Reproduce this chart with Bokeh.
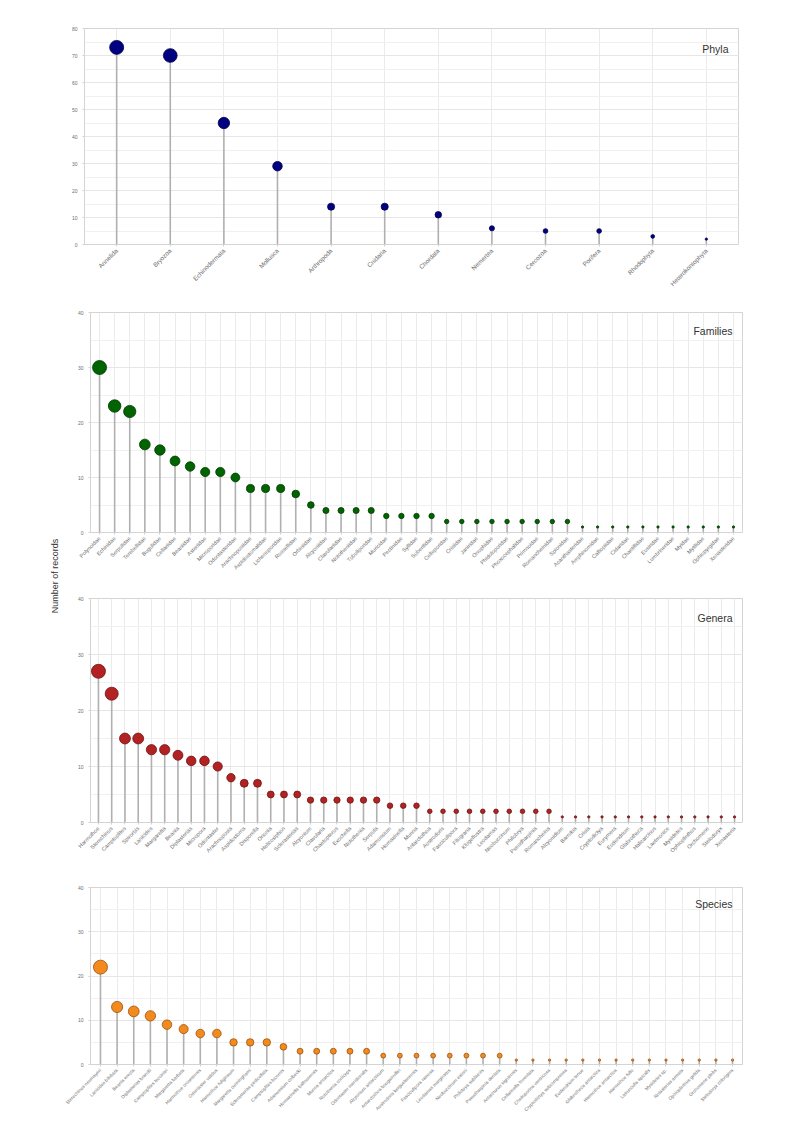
import math
from bokeh.plotting import figure
from bokeh.models import Range1d, Label, SingleIntervalTicker, Div, ColumnDataSource
from bokeh.layouts import column, row
from bokeh.embed import file_html
from bokeh.resources import INLINE

# ---------------- data ----------------
phyla = ["Annelida", "Bryozoa", "Echinodermata", "Mollusca", "Arthropoda", "Cnidaria",
         "Chordata", "Nemertea", "Cercozoa", "Porifera", "Rhodophyta", "Heterokontophyta"]
phyla_n = [73, 70, 45, 29, 14, 14, 11, 6, 5, 5, 3, 2]

families = ["Polynoidae", "Echinidae", "Serpulidae", "Terebellidae", "Bugulidae",
            "Cellariidae", "Beaniidae", "Asteriidae", "Microporidae", "Odontasteridae",
            "Arachnopusiidae", "Aspidostomatidae", "Lichenoporidae", "Rossellidae", "Orbiniidae",
            "Alcyoniidae", "Clavulariidae", "Nototheniidae", "Tubuliporidae", "Muricidae",
            "Pectinidae", "Syllidae", "Suberitidae", "Celleporidae", "Crisiidae",
            "Janiridae", "Onuphidae", "Phidoloporidae", "Phoxocephalidae", "Primnoidae",
            "Romancheinidae", "Spionidae", "Acanthasteridae", "Amphinomidae", "Calliopiidae",
            "Cidaridae", "Chaetillidae", "Eusiridae", "Lumbrineridae", "Myidae",
            "Mytilidae", "Ophiopyrgidae", "Xenasteridae"]
families_n = [30, 23, 22, 16, 15, 13, 12, 11, 11, 10, 8, 8, 8, 7, 5, 4, 4, 4, 4, 3, 3, 3, 3,
              2, 2, 2, 2, 2, 2, 2, 2, 2, 1, 1, 1, 1, 1, 1, 1, 1, 1, 1, 1]

genera = ["Harmothoe", "Sterechinus", "Camptoplites", "Spirorbis", "Lanicides", "Margaretta",
          "Beania", "Diplasterias", "Micropora", "Odontaster", "Arachnopusia", "Aspidostoma",
          "Disporella", "Orionia", "Helicosiphon", "Sclerasterias", "Alcyonium", "Clavularia",
          "Chaetopterus", "Exochella", "Notothenia", "Serpula", "Adamussium", "Homaxinella",
          "Munna", "Antarctothoa", "Austrodoris", "Fasciculipora", "Filograna", "Klugeflustra",
          "Leodamas", "Neobuccinum", "Philobrya", "Pseudharpinia", "Romancheina", "Alcyonidium",
          "Barrukia", "Crisia", "Cryptodictya", "Eurymera", "Eudendrium", "Glabrotheca",
          "Halicarcinus", "Laetmonice", "Mysidetes", "Ophioplinthus", "Orchomene", "Stelodoryx",
          "Xenasteria"]
genera_n = [27, 23, 15, 15, 13, 13, 12, 11, 11, 10, 8, 7, 7, 5, 5, 5, 4, 4, 4, 4, 4, 4, 3, 3, 3,
            2, 2, 2, 2, 2, 2, 2, 2, 2, 2, 1, 1, 1, 1, 1, 1, 1, 1, 1, 1, 1, 1, 1, 1]

species = ["Sterechinus neumayeri", "Lanicides bilobata", "Beania erecta", "Diplasterias brandti",
           "Camptoplites lecointei", "Margaretta barbata", "Harmothoe crosetensis",
           "Odontaster validus", "Harmothoe fuligineum", "Margaretta cunninghami",
           "Sclerasterias pedicellata", "Camptoplites bicornis", "Adamussium colbecki",
           "Homaxinella balfourensis", "Munna antarctica", "Notothenia coriiceps",
           "Odontaster meridionalis", "Alcyonium antarcticum", "Antarctothoa bougainvillei",
           "Austrodoris kerguelenensis", "Fasciculipora ramosa", "Leodamas marginatus",
           "Neobuccinum eatoni", "Philobrya sublaevis", "Pseudharpinia dentata",
           "Antarcturus signiensis", "Cellarinella foveolata", "Cheiloporina ventricosa",
           "Cryptodictya subcompressa", "Eudendrium tenue", "Glabrotheca antarctica",
           "Harmothoe antarctica", "Harmothoe fullo", "Latrunculia apicalis", "Mysidetes sp.",
           "Notasterias armata", "Ophioplinthus gelida", "Orchomene plebs",
           "Stelodoryx chlorigera"]
species_n = [22, 13, 12, 11, 9, 8, 7, 7, 5, 5, 5, 4, 3, 3, 3, 3, 3,
             2, 2, 2, 2, 2, 2, 2, 2, 1, 1, 1, 1, 1, 1, 1, 1, 1, 1, 1, 1, 1, 1]

FONT = "Liberation Sans"
DIV_W = 46
FIG_W = 724


def marker_sizes(vals, dmax=14.0):
    lo, hi = min(vals), max(vals)
    out = []
    for v in vals:
        r = 0.0 if hi == lo else (v - lo) / (hi - lo)
        out.append(dmax * (1 + 5 * math.sqrt(r)) / 6.0)
    return out


def panel(cats, vals, fill, line, title, ymax, left, frame_w, frame_h, top, bottom,
          xfont, title_dy):
    right = FIG_W - left - frame_w
    p = figure(x_range=cats, y_range=Range1d(0, ymax),
               width=FIG_W, height=top + frame_h + bottom,
               min_border_left=left, min_border_right=right,
               min_border_top=top, min_border_bottom=bottom,
               output_backend="svg", toolbar_location=None,
               background_fill_color="white", border_fill_color=None)
    p.x_range.range_padding = 0.1
    p.x_range.range_padding_units = "absolute"
    src = ColumnDataSource(dict(cat=cats, val=vals, zero=[0] * len(vals),
                                size=marker_sizes(vals)))
    p.segment(x0="cat", y0="zero", x1="cat", y1="val", source=src,
              line_color="#b0b0b0", line_width=1.6)
    p.scatter(x="cat", y="val", size="size", source=src,
              fill_color=fill, line_color=line, line_width=0.8)

    p.outline_line_color = "#d4d4d4"
    p.outline_line_width = 1
    p.xgrid.grid_line_color = "#ebebeb"
    p.ygrid.grid_line_color = "#e6e6e6"
    p.ygrid.minor_grid_line_color = "#f0f0f0"
    p.yaxis.ticker = SingleIntervalTicker(interval=10, num_minor_ticks=2)

    for ax in (p.xaxis[0], p.yaxis[0]):
        ax.axis_line_color = None
        ax.major_tick_line_color = "#d0d0d0"
        ax.major_tick_out = 2
        ax.major_tick_in = 0
        ax.minor_tick_line_color = None
        ax.major_label_text_font = FONT
        ax.major_label_text_color = "#6e6e6e"
    p.yaxis.major_label_text_font_size = "5px"
    p.yaxis.major_label_standoff = 3
    p.xaxis.major_label_text_font_size = xfont
    p.xaxis.major_label_orientation = math.pi / 4
    p.xaxis.major_label_standoff = 3

    p.add_layout(Label(x=len(cats) + 0.1, y=ymax, x_offset=-10, y_offset=title_dy, text=title,
                       text_align="right", text_baseline="middle",
                       text_font=FONT, text_font_size="10.5px", text_color="#333333"))
    return p


p1 = panel(phyla, phyla_n, "#000080", "#00004d", "Phyla", 80, 28, 654, 219, 28, 45, "6.3px", -20)
p2 = panel(families, families_n, "#006400", "#003a00", "Families", 40, 34, 652, 220, 20, 46, "5.5px", -18)
p3 = panel(genera, genera_n, "#b22222", "#6e1414", "Genera", 40, 34, 652, 224, 20, 45, "5.5px", -19)
p4 = panel(species, species_n, "#f28a1e", "#9a5210", "Species", 40, 34, 652, 177, 20, 66, "4.7px", -16)

ylab = Div(text='<div style="position:absolute;left:50px;top:571px;'
                'transform:translate(-50%,-50%) rotate(-90deg);white-space:nowrap;'
                'font-family:Liberation Sans, Arial, sans-serif;font-size:9px;color:#333;">'
                'Number of records</div>',
           width=DIV_W, height=1120, styles={"overflow": "visible", "z-index": "10"})

layout = row(ylab, column(row(p1), p2, p3, p4, spacing=0), spacing=0)

open("out.html", "w").write(file_html(layout, INLINE))
